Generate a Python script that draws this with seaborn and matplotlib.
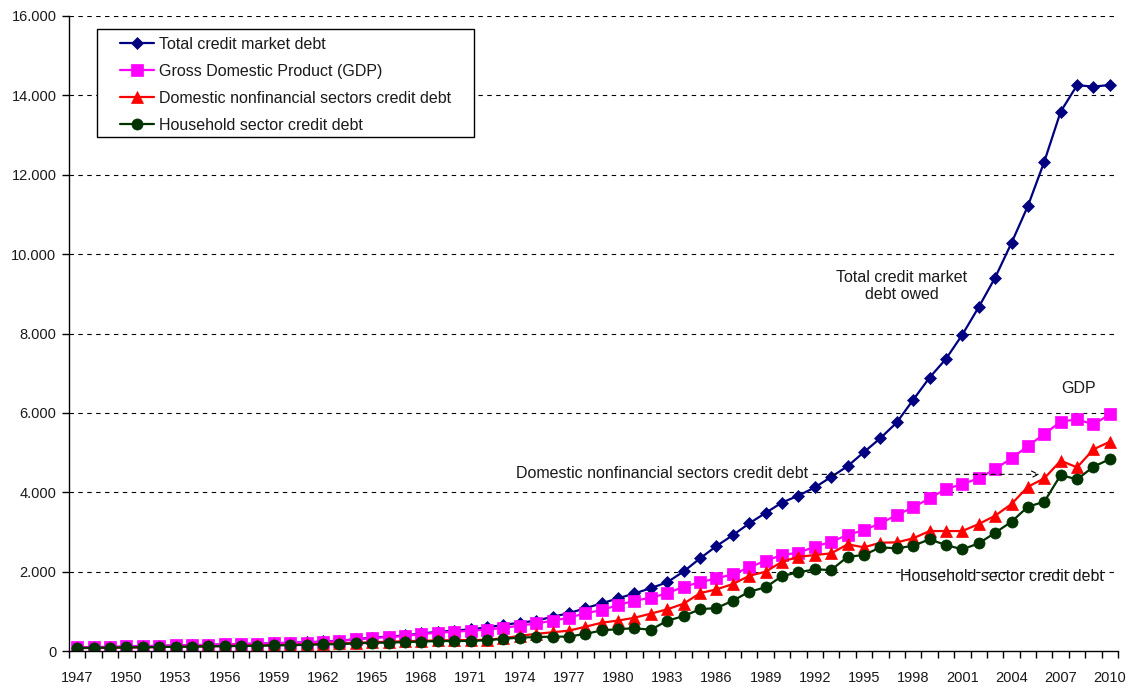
import matplotlib
matplotlib.use("Agg")
import matplotlib.pyplot as plt
from matplotlib.patches import Rectangle
from matplotlib.ticker import FixedLocator, FuncFormatter
import numpy as np
import seaborn as sns

years = list(range(1947, 2011))

total_credit = [95, 105, 108, 118, 128, 137, 146, 152, 165, 175,
                185, 192, 207, 215, 228, 248, 268, 305, 345, 372,
                400, 450, 490, 520, 555, 600, 665, 720, 770, 870,
                960, 1085, 1208, 1334, 1458, 1590, 1740, 2010, 2340, 2650,
                2925, 3220, 3485, 3745, 3920, 4125, 4390, 4660, 5015, 5365,
                5760, 6330, 6890, 7360, 7970, 8665, 9405, 10280, 11210, 12325,
                13585, 14250, 14215, 14255]

gdp = [100, 110, 112, 122, 132, 140, 148, 152, 165, 175,
       185, 190, 205, 212, 222, 242, 259, 300, 335, 360,
       385, 435, 468, 494, 519, 545, 594, 645, 705, 766,
       850, 956, 1040, 1165, 1274, 1350, 1460, 1627, 1737, 1837,
       1938, 2114, 2280, 2424, 2482, 2633, 2759, 2927, 3053, 3221,
       3431, 3624, 3851, 4085, 4211, 4354, 4589, 4858, 5167, 5469,
       5779, 5839, 5713, 5965]

nonfinancial = [80, 85, 88, 95, 100, 108, 115, 120, 128, 135,
                142, 148, 158, 165, 175, 190, 200, 215, 230, 240,
                255, 265, 275, 280, 285, 290, 330, 390, 440, 480,
                520, 619, 720, 775, 845, 950, 1057, 1200, 1465, 1560,
                1694, 1900, 2005, 2255, 2380, 2424, 2466, 2693, 2618, 2734,
                2743, 2844, 3028, 3028, 3028, 3204, 3413, 3708, 4143, 4354,
                4797, 4631, 5084, 5276]

household = [85, 90, 92, 98, 102, 108, 115, 118, 125, 130,
             135, 140, 148, 155, 162, 176, 180, 200, 215, 220,
             234, 245, 259, 260, 262, 278, 315, 345, 360, 370,
             370, 440, 525, 561, 579, 545, 770, 888, 1060, 1090,
             1274, 1500, 1611, 1895, 1988, 2064, 2046, 2381, 2424, 2618,
             2592, 2658, 2819, 2676, 2567, 2718, 2985, 3262, 3640, 3765,
             4437, 4329, 4646, 4840]

series_labels = ["Total credit market debt",
                 "Gross Domestic Product (GDP)",
                 "Domestic nonfinancial sectors credit debt",
                 "Household sector credit debt"]

y_ticks = [0, 2000, 4000, 6000, 8000, 10000, 12000, 14000, 16000]
label_years = list(range(1947, 2011, 3))

sns.set_theme(style="white")
plt.rcParams["font.family"] = ["Liberation Sans", "DejaVu Sans"]
plt.rcParams["text.color"] = "#1a1a1a"

TEXT_SIZE = 11.5
TICK_SIZE = 10.5

fig = plt.figure(figsize=(11.29, 6.88), dpi=100)
ax = fig.add_axes([0.0611, 0.0533, 0.9292, 0.9239])

styles = [
    (total_credit, "#000080", "D", 6.5),
    (gdp, "#FF00FF", "s", 8.0),
    (nonfinancial, "#FF0000", "^", 8.5),
    (household, "#003300", "o", 8.0),
]
for (vals, color, marker, ms), label in zip(styles, series_labels):
    sns.lineplot(x=years, y=vals, ax=ax, color=color, marker=marker,
                 markersize=ms, markeredgecolor=color, markeredgewidth=0.5,
                 linewidth=1.6, label=label)

ax.set_xlim(1946.5, 2010.5)
ax.set_ylim(0, 16000)

# y axis
ax.yaxis.set_major_locator(FixedLocator(y_ticks))
ax.yaxis.set_major_formatter(FuncFormatter(lambda v, p: f"{v:,.0f}".replace(",", ".")))
ax.tick_params(axis="y", which="major", direction="out", length=5, width=1,
               color="black", labelsize=TICK_SIZE, pad=4, left=True,
               labelcolor="#1a1a1a")
for v in y_ticks[1:]:
    ax.axhline(v, color="black", linestyle=(0, (4, 4)), linewidth=0.8, zorder=0)

# x axis: labels on every third year, tick marks between years
ax.xaxis.set_major_locator(FixedLocator(label_years))
ax.set_xticklabels([str(y) for y in label_years])
ax.xaxis.set_minor_locator(FixedLocator(np.arange(1946.5, 2011, 1.0)))
ax.tick_params(axis="x", which="major", length=0, labelsize=TICK_SIZE, pad=14,
               labelcolor="#1a1a1a")
ax.tick_params(axis="x", which="minor", direction="out", length=5, width=1,
               color="black", bottom=True)

for side in ("top", "right"):
    ax.spines[side].set_visible(False)
for side in ("left", "bottom"):
    ax.spines[side].set_color("black")
    ax.spines[side].set_linewidth(1.0)
ax.set_xlabel("")
ax.set_ylabel("")

# legend: entries without frame, box drawn separately
leg = ax.legend(loc="upper left", bbox_to_anchor=(0.0486, 0.967),
                fontsize=TEXT_SIZE, frameon=False, handlelength=2.15,
                handletextpad=0.3, labelspacing=0.75, borderpad=0,
                borderaxespad=0)
ax.add_patch(Rectangle((0.0267, 0.809), 0.3594, 0.170, transform=ax.transAxes,
                       facecolor="white", edgecolor="black", linewidth=1.0,
                       zorder=4))
leg.set_zorder(5)

# annotations
ax.text(1997.3, 9195, "Total credit market\ndebt owed", ha="center", va="center",
        fontsize=TEXT_SIZE, linespacing=1.15)
ax.text(2008.1, 6610, "GDP", ha="center", va="center", fontsize=TEXT_SIZE)
ax.text(1973.8, 4487, "Domestic nonfinancial sectors credit debt", ha="left",
        va="center", fontsize=TEXT_SIZE)
ax.annotate("", xy=(2005.7, 4455), xytext=(1991.9, 4455),
            arrowprops=dict(arrowstyle="->", linestyle=(0, (4, 4)),
                            color="black", linewidth=0.8,
                            shrinkA=0, shrinkB=0))
ax.text(2003.4, 1894, "Household sector credit debt", ha="center", va="center",
        fontsize=TEXT_SIZE)

fig.savefig("out.png", dpi=100)
